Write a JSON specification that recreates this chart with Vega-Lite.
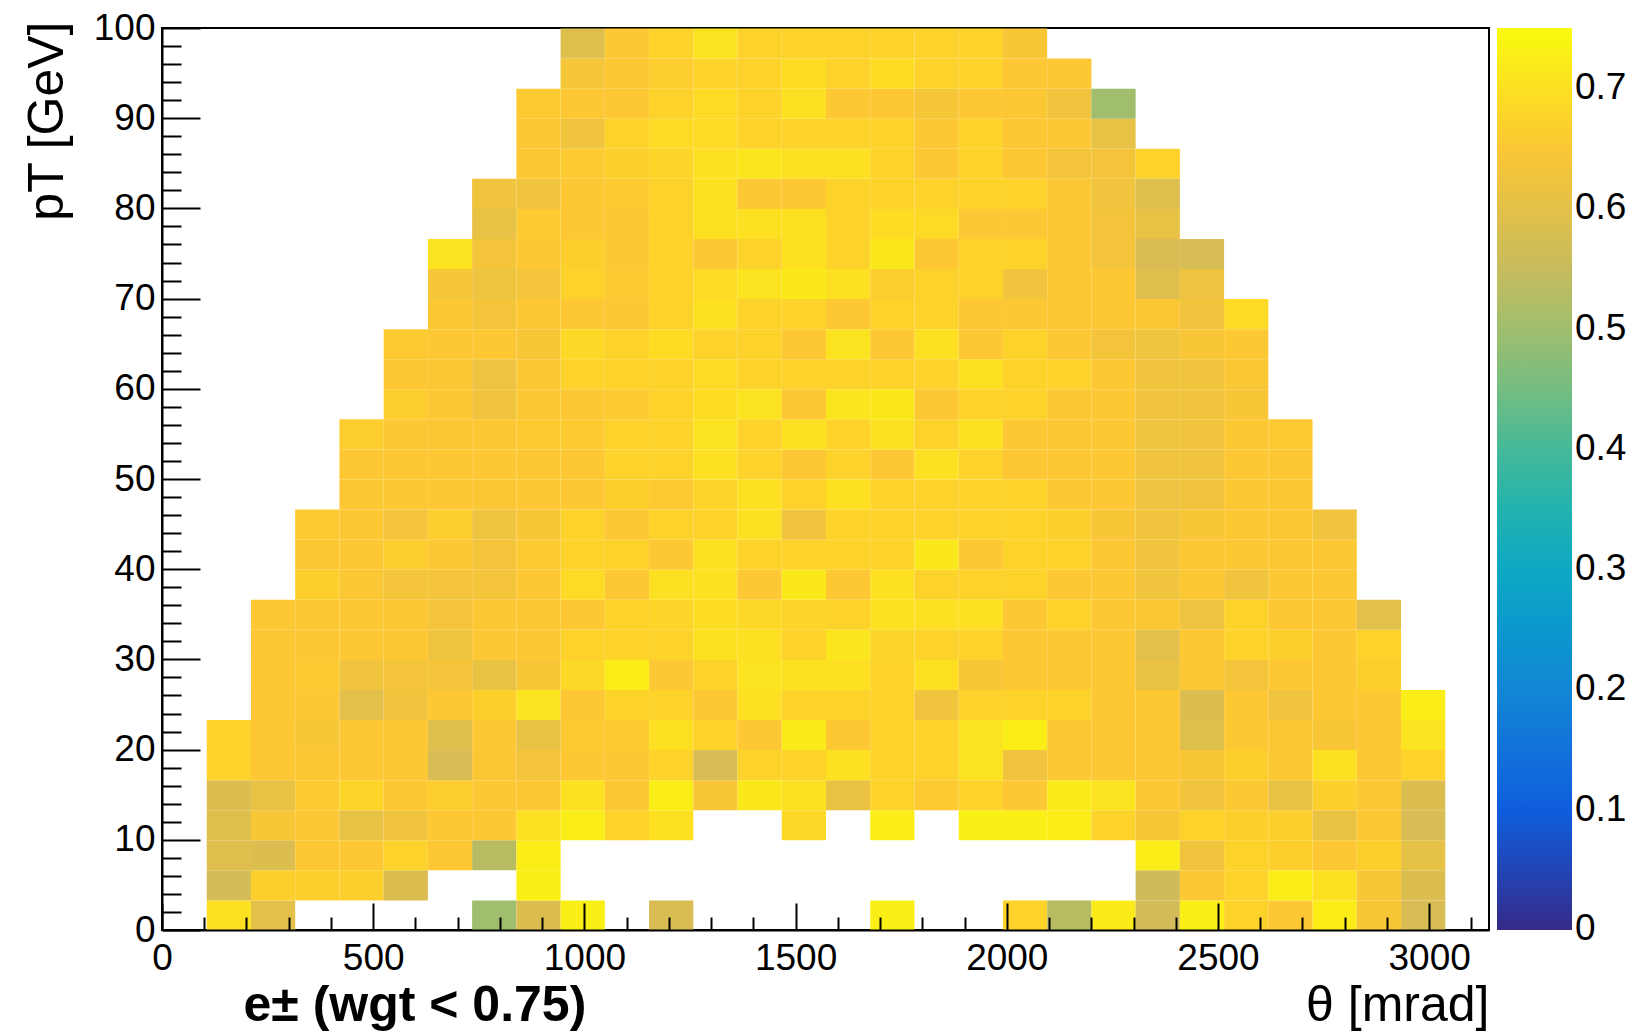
{
"$schema":"https://vega.github.io/schema/vega-lite/v6.json",
"width":1327,"height":902,
"autosize":{"type":"none"},
"padding":{"left":162,"top":28,"right":149,"bottom":102},
"background":"white",
"config":{"view":{"stroke":"#000","strokeWidth":2},"font":"Liberation Sans",
"axis":{"grid":false,"domainColor":"#000","domainWidth":2,"tickColor":"#000","tickWidth":2,"labelColor":"#000","labelFont":"Liberation Sans","labelFontSize":37,"titleFont":"Liberation Sans","titleColor":"#000","titleFontSize":50,"titleFontWeight":"normal","labelOverlap":false,"labelFlush":false,"labelBound":false}},
"data":{"values":[
{"t":157.1,"p":1.67,"w":0.70},{"t":157.1,"p":5,"w":0.57},{"t":157.1,"p":8.33,"w":0.59},{"t":157.1,"p":11.67,"w":0.59},{"t":157.1,"p":15,"w":0.585},{"t":157.1,"p":18.33,"w":0.675},{"t":157.1,"p":21.67,"w":0.675},
{"t":261.8,"p":1.67,"w":0.60},{"t":261.8,"p":5,"w":0.67},{"t":261.8,"p":8.33,"w":0.585},{"t":261.8,"p":11.67,"w":0.645},{"t":261.8,"p":15,"w":0.61},{"t":261.8,"p":18.33,"w":0.655},{"t":261.8,"p":21.67,"w":0.655},{"t":261.8,"p":25,"w":0.65},{"t":261.8,"p":28.33,"w":0.655},{"t":261.8,"p":31.67,"w":0.65},{"t":261.8,"p":35,"w":0.655},
{"t":366.5,"p":5,"w":0.67},{"t":366.5,"p":8.33,"w":0.655},{"t":366.5,"p":11.67,"w":0.655},{"t":366.5,"p":15,"w":0.66},{"t":366.5,"p":18.33,"w":0.655},{"t":366.5,"p":21.67,"w":0.645},{"t":366.5,"p":25,"w":0.655},{"t":366.5,"p":28.33,"w":0.66},{"t":366.5,"p":31.67,"w":0.655},{"t":366.5,"p":35,"w":0.655},{"t":366.5,"p":38.33,"w":0.67},{"t":366.5,"p":41.67,"w":0.655},{"t":366.5,"p":45,"w":0.66},
{"t":471.2,"p":5,"w":0.67},{"t":471.2,"p":8.33,"w":0.655},{"t":471.2,"p":11.67,"w":0.61},{"t":471.2,"p":15,"w":0.68},{"t":471.2,"p":18.33,"w":0.655},{"t":471.2,"p":21.67,"w":0.655},{"t":471.2,"p":25,"w":0.60},{"t":471.2,"p":28.33,"w":0.63},{"t":471.2,"p":31.67,"w":0.655},{"t":471.2,"p":35,"w":0.655},{"t":471.2,"p":38.33,"w":0.65},{"t":471.2,"p":41.67,"w":0.655},{"t":471.2,"p":45,"w":0.655},{"t":471.2,"p":48.33,"w":0.65},{"t":471.2,"p":51.67,"w":0.655},{"t":471.2,"p":55,"w":0.665},
{"t":576,"p":5,"w":0.585},{"t":576,"p":8.33,"w":0.675},{"t":576,"p":11.67,"w":0.63},{"t":576,"p":15,"w":0.655},{"t":576,"p":18.33,"w":0.655},{"t":576,"p":21.67,"w":0.655},{"t":576,"p":25,"w":0.63},{"t":576,"p":28.33,"w":0.635},{"t":576,"p":31.67,"w":0.655},{"t":576,"p":35,"w":0.655},{"t":576,"p":38.33,"w":0.635},{"t":576,"p":41.67,"w":0.665},{"t":576,"p":45,"w":0.635},{"t":576,"p":48.33,"w":0.655},{"t":576,"p":51.67,"w":0.655},{"t":576,"p":55,"w":0.655},{"t":576,"p":58.33,"w":0.665},{"t":576,"p":61.67,"w":0.655},{"t":576,"p":65,"w":0.66},
{"t":680.7,"p":8.33,"w":0.655},{"t":680.7,"p":11.67,"w":0.655},{"t":680.7,"p":15,"w":0.665},{"t":680.7,"p":18.33,"w":0.575},{"t":680.7,"p":21.67,"w":0.59},{"t":680.7,"p":25,"w":0.655},{"t":680.7,"p":28.33,"w":0.635},{"t":680.7,"p":31.67,"w":0.625},{"t":680.7,"p":35,"w":0.635},{"t":680.7,"p":38.33,"w":0.635},{"t":680.7,"p":41.67,"w":0.655},{"t":680.7,"p":45,"w":0.665},{"t":680.7,"p":48.33,"w":0.655},{"t":680.7,"p":51.67,"w":0.655},{"t":680.7,"p":55,"w":0.65},{"t":680.7,"p":58.33,"w":0.655},{"t":680.7,"p":61.67,"w":0.65},{"t":680.7,"p":65,"w":0.655},{"t":680.7,"p":68.33,"w":0.65},{"t":680.7,"p":71.67,"w":0.64},{"t":680.7,"p":75,"w":0.705},
{"t":785.4,"p":1.67,"w":0.50},{"t":785.4,"p":8.33,"w":0.53},{"t":785.4,"p":11.67,"w":0.655},{"t":785.4,"p":15,"w":0.655},{"t":785.4,"p":18.33,"w":0.65},{"t":785.4,"p":21.67,"w":0.655},{"t":785.4,"p":25,"w":0.67},{"t":785.4,"p":28.33,"w":0.615},{"t":785.4,"p":31.67,"w":0.655},{"t":785.4,"p":35,"w":0.655},{"t":785.4,"p":38.33,"w":0.635},{"t":785.4,"p":41.67,"w":0.635},{"t":785.4,"p":45,"w":0.625},{"t":785.4,"p":48.33,"w":0.65},{"t":785.4,"p":51.67,"w":0.655},{"t":785.4,"p":55,"w":0.655},{"t":785.4,"p":58.33,"w":0.63},{"t":785.4,"p":61.67,"w":0.62},{"t":785.4,"p":65,"w":0.655},{"t":785.4,"p":68.33,"w":0.635},{"t":785.4,"p":71.67,"w":0.625},{"t":785.4,"p":75,"w":0.635},{"t":785.4,"p":78.33,"w":0.61},{"t":785.4,"p":81.67,"w":0.63},
{"t":890.1,"p":1.67,"w":0.585},{"t":890.1,"p":5,"w":0.73},{"t":890.1,"p":8.33,"w":0.725},{"t":890.1,"p":11.67,"w":0.70},{"t":890.1,"p":15,"w":0.655},{"t":890.1,"p":18.33,"w":0.635},{"t":890.1,"p":21.67,"w":0.61},{"t":890.1,"p":25,"w":0.705},{"t":890.1,"p":28.33,"w":0.645},{"t":890.1,"p":31.67,"w":0.655},{"t":890.1,"p":35,"w":0.655},{"t":890.1,"p":38.33,"w":0.655},{"t":890.1,"p":41.67,"w":0.66},{"t":890.1,"p":45,"w":0.645},{"t":890.1,"p":48.33,"w":0.655},{"t":890.1,"p":51.67,"w":0.655},{"t":890.1,"p":55,"w":0.66},{"t":890.1,"p":58.33,"w":0.655},{"t":890.1,"p":61.67,"w":0.655},{"t":890.1,"p":65,"w":0.645},{"t":890.1,"p":68.33,"w":0.655},{"t":890.1,"p":71.67,"w":0.635},{"t":890.1,"p":75,"w":0.655},{"t":890.1,"p":78.33,"w":0.66},{"t":890.1,"p":81.67,"w":0.63},{"t":890.1,"p":85,"w":0.655},{"t":890.1,"p":88.33,"w":0.655},{"t":890.1,"p":91.67,"w":0.66},
{"t":994.8,"p":1.67,"w":0.73},{"t":994.8,"p":11.67,"w":0.725},{"t":994.8,"p":15,"w":0.70},{"t":994.8,"p":18.33,"w":0.655},{"t":994.8,"p":21.67,"w":0.66},{"t":994.8,"p":25,"w":0.655},{"t":994.8,"p":28.33,"w":0.685},{"t":994.8,"p":31.67,"w":0.675},{"t":994.8,"p":35,"w":0.655},{"t":994.8,"p":38.33,"w":0.69},{"t":994.8,"p":41.67,"w":0.675},{"t":994.8,"p":45,"w":0.675},{"t":994.8,"p":48.33,"w":0.655},{"t":994.8,"p":51.67,"w":0.655},{"t":994.8,"p":55,"w":0.66},{"t":994.8,"p":58.33,"w":0.655},{"t":994.8,"p":61.67,"w":0.675},{"t":994.8,"p":65,"w":0.685},{"t":994.8,"p":68.33,"w":0.655},{"t":994.8,"p":71.67,"w":0.675},{"t":994.8,"p":75,"w":0.67},{"t":994.8,"p":78.33,"w":0.655},{"t":994.8,"p":81.67,"w":0.655},{"t":994.8,"p":85,"w":0.66},{"t":994.8,"p":88.33,"w":0.63},{"t":994.8,"p":91.67,"w":0.655},{"t":994.8,"p":95,"w":0.64},{"t":994.8,"p":98.33,"w":0.59},
{"t":1099.6,"p":11.67,"w":0.675},{"t":1099.6,"p":15,"w":0.655},{"t":1099.6,"p":18.33,"w":0.655},{"t":1099.6,"p":21.67,"w":0.66},{"t":1099.6,"p":25,"w":0.675},{"t":1099.6,"p":28.33,"w":0.725},{"t":1099.6,"p":31.67,"w":0.675},{"t":1099.6,"p":35,"w":0.675},{"t":1099.6,"p":38.33,"w":0.655},{"t":1099.6,"p":41.67,"w":0.675},{"t":1099.6,"p":45,"w":0.655},{"t":1099.6,"p":48.33,"w":0.67},{"t":1099.6,"p":51.67,"w":0.675},{"t":1099.6,"p":55,"w":0.675},{"t":1099.6,"p":58.33,"w":0.66},{"t":1099.6,"p":61.67,"w":0.675},{"t":1099.6,"p":65,"w":0.675},{"t":1099.6,"p":68.33,"w":0.655},{"t":1099.6,"p":71.67,"w":0.66},{"t":1099.6,"p":75,"w":0.655},{"t":1099.6,"p":78.33,"w":0.655},{"t":1099.6,"p":81.67,"w":0.66},{"t":1099.6,"p":85,"w":0.67},{"t":1099.6,"p":88.33,"w":0.675},{"t":1099.6,"p":91.67,"w":0.655},{"t":1099.6,"p":95,"w":0.655},{"t":1099.6,"p":98.33,"w":0.655},
{"t":1204.3,"p":1.67,"w":0.58},{"t":1204.3,"p":11.67,"w":0.70},{"t":1204.3,"p":15,"w":0.725},{"t":1204.3,"p":18.33,"w":0.675},{"t":1204.3,"p":21.67,"w":0.70},{"t":1204.3,"p":25,"w":0.675},{"t":1204.3,"p":28.33,"w":0.655},{"t":1204.3,"p":31.67,"w":0.675},{"t":1204.3,"p":35,"w":0.68},{"t":1204.3,"p":38.33,"w":0.70},{"t":1204.3,"p":41.67,"w":0.655},{"t":1204.3,"p":45,"w":0.675},{"t":1204.3,"p":48.33,"w":0.66},{"t":1204.3,"p":51.67,"w":0.675},{"t":1204.3,"p":55,"w":0.675},{"t":1204.3,"p":58.33,"w":0.675},{"t":1204.3,"p":61.67,"w":0.675},{"t":1204.3,"p":65,"w":0.695},{"t":1204.3,"p":68.33,"w":0.675},{"t":1204.3,"p":71.67,"w":0.675},{"t":1204.3,"p":75,"w":0.675},{"t":1204.3,"p":78.33,"w":0.675},{"t":1204.3,"p":81.67,"w":0.675},{"t":1204.3,"p":85,"w":0.68},{"t":1204.3,"p":88.33,"w":0.69},{"t":1204.3,"p":91.67,"w":0.675},{"t":1204.3,"p":95,"w":0.665},{"t":1204.3,"p":98.33,"w":0.675},
{"t":1309,"p":15,"w":0.645},{"t":1309,"p":18.33,"w":0.575},{"t":1309,"p":21.67,"w":0.675},{"t":1309,"p":25,"w":0.655},{"t":1309,"p":28.33,"w":0.675},{"t":1309,"p":31.67,"w":0.70},{"t":1309,"p":35,"w":0.695},{"t":1309,"p":38.33,"w":0.70},{"t":1309,"p":41.67,"w":0.70},{"t":1309,"p":45,"w":0.675},{"t":1309,"p":48.33,"w":0.68},{"t":1309,"p":51.67,"w":0.70},{"t":1309,"p":55,"w":0.705},{"t":1309,"p":58.33,"w":0.695},{"t":1309,"p":61.67,"w":0.69},{"t":1309,"p":65,"w":0.675},{"t":1309,"p":68.33,"w":0.70},{"t":1309,"p":71.67,"w":0.69},{"t":1309,"p":75,"w":0.655},{"t":1309,"p":78.33,"w":0.70},{"t":1309,"p":81.67,"w":0.70},{"t":1309,"p":85,"w":0.70},{"t":1309,"p":88.33,"w":0.69},{"t":1309,"p":91.67,"w":0.69},{"t":1309,"p":95,"w":0.675},{"t":1309,"p":98.33,"w":0.705},
{"t":1413.7,"p":15,"w":0.715},{"t":1413.7,"p":18.33,"w":0.675},{"t":1413.7,"p":21.67,"w":0.655},{"t":1413.7,"p":25,"w":0.70},{"t":1413.7,"p":28.33,"w":0.705},{"t":1413.7,"p":31.67,"w":0.70},{"t":1413.7,"p":35,"w":0.685},{"t":1413.7,"p":38.33,"w":0.655},{"t":1413.7,"p":41.67,"w":0.675},{"t":1413.7,"p":45,"w":0.70},{"t":1413.7,"p":48.33,"w":0.70},{"t":1413.7,"p":51.67,"w":0.675},{"t":1413.7,"p":55,"w":0.675},{"t":1413.7,"p":58.33,"w":0.705},{"t":1413.7,"p":61.67,"w":0.675},{"t":1413.7,"p":65,"w":0.675},{"t":1413.7,"p":68.33,"w":0.675},{"t":1413.7,"p":71.67,"w":0.705},{"t":1413.7,"p":75,"w":0.675},{"t":1413.7,"p":78.33,"w":0.70},{"t":1413.7,"p":81.67,"w":0.655},{"t":1413.7,"p":85,"w":0.71},{"t":1413.7,"p":88.33,"w":0.675},{"t":1413.7,"p":91.67,"w":0.675},{"t":1413.7,"p":95,"w":0.675},{"t":1413.7,"p":98.33,"w":0.675},
{"t":1518.4,"p":11.67,"w":0.685},{"t":1518.4,"p":15,"w":0.70},{"t":1518.4,"p":18.33,"w":0.675},{"t":1518.4,"p":21.67,"w":0.72},{"t":1518.4,"p":25,"w":0.675},{"t":1518.4,"p":28.33,"w":0.70},{"t":1518.4,"p":31.67,"w":0.675},{"t":1518.4,"p":35,"w":0.68},{"t":1518.4,"p":38.33,"w":0.715},{"t":1518.4,"p":41.67,"w":0.675},{"t":1518.4,"p":45,"w":0.63},{"t":1518.4,"p":48.33,"w":0.675},{"t":1518.4,"p":51.67,"w":0.655},{"t":1518.4,"p":55,"w":0.70},{"t":1518.4,"p":58.33,"w":0.655},{"t":1518.4,"p":61.67,"w":0.675},{"t":1518.4,"p":65,"w":0.655},{"t":1518.4,"p":68.33,"w":0.675},{"t":1518.4,"p":71.67,"w":0.715},{"t":1518.4,"p":75,"w":0.70},{"t":1518.4,"p":78.33,"w":0.70},{"t":1518.4,"p":81.67,"w":0.655},{"t":1518.4,"p":85,"w":0.70},{"t":1518.4,"p":88.33,"w":0.675},{"t":1518.4,"p":91.67,"w":0.70},{"t":1518.4,"p":95,"w":0.695},{"t":1518.4,"p":98.33,"w":0.675},
{"t":1623.2,"p":15,"w":0.615},{"t":1623.2,"p":18.33,"w":0.70},{"t":1623.2,"p":21.67,"w":0.655},{"t":1623.2,"p":25,"w":0.675},{"t":1623.2,"p":28.33,"w":0.70},{"t":1623.2,"p":31.67,"w":0.71},{"t":1623.2,"p":35,"w":0.675},{"t":1623.2,"p":38.33,"w":0.655},{"t":1623.2,"p":41.67,"w":0.675},{"t":1623.2,"p":45,"w":0.675},{"t":1623.2,"p":48.33,"w":0.70},{"t":1623.2,"p":51.67,"w":0.675},{"t":1623.2,"p":55,"w":0.675},{"t":1623.2,"p":58.33,"w":0.71},{"t":1623.2,"p":61.67,"w":0.675},{"t":1623.2,"p":65,"w":0.705},{"t":1623.2,"p":68.33,"w":0.655},{"t":1623.2,"p":71.67,"w":0.70},{"t":1623.2,"p":75,"w":0.675},{"t":1623.2,"p":78.33,"w":0.675},{"t":1623.2,"p":81.67,"w":0.675},{"t":1623.2,"p":85,"w":0.70},{"t":1623.2,"p":88.33,"w":0.675},{"t":1623.2,"p":91.67,"w":0.655},{"t":1623.2,"p":95,"w":0.675},{"t":1623.2,"p":98.33,"w":0.675},
{"t":1727.9,"p":1.67,"w":0.73},{"t":1727.9,"p":11.67,"w":0.725},{"t":1727.9,"p":15,"w":0.675},{"t":1727.9,"p":18.33,"w":0.675},{"t":1727.9,"p":21.67,"w":0.675},{"t":1727.9,"p":25,"w":0.675},{"t":1727.9,"p":28.33,"w":0.675},{"t":1727.9,"p":31.67,"w":0.68},{"t":1727.9,"p":35,"w":0.70},{"t":1727.9,"p":38.33,"w":0.70},{"t":1727.9,"p":41.67,"w":0.675},{"t":1727.9,"p":45,"w":0.675},{"t":1727.9,"p":48.33,"w":0.675},{"t":1727.9,"p":51.67,"w":0.655},{"t":1727.9,"p":55,"w":0.70},{"t":1727.9,"p":58.33,"w":0.715},{"t":1727.9,"p":61.67,"w":0.675},{"t":1727.9,"p":65,"w":0.655},{"t":1727.9,"p":68.33,"w":0.675},{"t":1727.9,"p":71.67,"w":0.665},{"t":1727.9,"p":75,"w":0.715},{"t":1727.9,"p":78.33,"w":0.695},{"t":1727.9,"p":81.67,"w":0.675},{"t":1727.9,"p":85,"w":0.675},{"t":1727.9,"p":88.33,"w":0.675},{"t":1727.9,"p":91.67,"w":0.655},{"t":1727.9,"p":95,"w":0.695},{"t":1727.9,"p":98.33,"w":0.675},
{"t":1832.6,"p":15,"w":0.66},{"t":1832.6,"p":18.33,"w":0.675},{"t":1832.6,"p":21.67,"w":0.675},{"t":1832.6,"p":25,"w":0.63},{"t":1832.6,"p":28.33,"w":0.70},{"t":1832.6,"p":31.67,"w":0.675},{"t":1832.6,"p":35,"w":0.70},{"t":1832.6,"p":38.33,"w":0.675},{"t":1832.6,"p":41.67,"w":0.715},{"t":1832.6,"p":45,"w":0.675},{"t":1832.6,"p":48.33,"w":0.675},{"t":1832.6,"p":51.67,"w":0.70},{"t":1832.6,"p":55,"w":0.675},{"t":1832.6,"p":58.33,"w":0.655},{"t":1832.6,"p":61.67,"w":0.675},{"t":1832.6,"p":65,"w":0.70},{"t":1832.6,"p":68.33,"w":0.675},{"t":1832.6,"p":71.67,"w":0.675},{"t":1832.6,"p":75,"w":0.655},{"t":1832.6,"p":78.33,"w":0.69},{"t":1832.6,"p":81.67,"w":0.675},{"t":1832.6,"p":85,"w":0.655},{"t":1832.6,"p":88.33,"w":0.655},{"t":1832.6,"p":91.67,"w":0.64},{"t":1832.6,"p":95,"w":0.675},{"t":1832.6,"p":98.33,"w":0.675},
{"t":1937.3,"p":11.67,"w":0.73},{"t":1937.3,"p":15,"w":0.675},{"t":1937.3,"p":18.33,"w":0.705},{"t":1937.3,"p":21.67,"w":0.705},{"t":1937.3,"p":25,"w":0.675},{"t":1937.3,"p":28.33,"w":0.645},{"t":1937.3,"p":31.67,"w":0.675},{"t":1937.3,"p":35,"w":0.70},{"t":1937.3,"p":38.33,"w":0.675},{"t":1937.3,"p":41.67,"w":0.655},{"t":1937.3,"p":45,"w":0.675},{"t":1937.3,"p":48.33,"w":0.675},{"t":1937.3,"p":51.67,"w":0.675},{"t":1937.3,"p":55,"w":0.70},{"t":1937.3,"p":58.33,"w":0.675},{"t":1937.3,"p":61.67,"w":0.70},{"t":1937.3,"p":65,"w":0.655},{"t":1937.3,"p":68.33,"w":0.655},{"t":1937.3,"p":71.67,"w":0.675},{"t":1937.3,"p":75,"w":0.675},{"t":1937.3,"p":78.33,"w":0.655},{"t":1937.3,"p":81.67,"w":0.675},{"t":1937.3,"p":85,"w":0.675},{"t":1937.3,"p":88.33,"w":0.675},{"t":1937.3,"p":91.67,"w":0.655},{"t":1937.3,"p":95,"w":0.675},{"t":1937.3,"p":98.33,"w":0.675},
{"t":2042,"p":1.67,"w":0.675},{"t":2042,"p":11.67,"w":0.73},{"t":2042,"p":15,"w":0.655},{"t":2042,"p":18.33,"w":0.63},{"t":2042,"p":21.67,"w":0.725},{"t":2042,"p":25,"w":0.675},{"t":2042,"p":28.33,"w":0.655},{"t":2042,"p":31.67,"w":0.655},{"t":2042,"p":35,"w":0.655},{"t":2042,"p":38.33,"w":0.675},{"t":2042,"p":41.67,"w":0.675},{"t":2042,"p":45,"w":0.675},{"t":2042,"p":48.33,"w":0.675},{"t":2042,"p":51.67,"w":0.655},{"t":2042,"p":55,"w":0.655},{"t":2042,"p":58.33,"w":0.675},{"t":2042,"p":61.67,"w":0.675},{"t":2042,"p":65,"w":0.675},{"t":2042,"p":68.33,"w":0.655},{"t":2042,"p":71.67,"w":0.63},{"t":2042,"p":75,"w":0.675},{"t":2042,"p":78.33,"w":0.655},{"t":2042,"p":81.67,"w":0.675},{"t":2042,"p":85,"w":0.655},{"t":2042,"p":88.33,"w":0.655},{"t":2042,"p":91.67,"w":0.65},{"t":2042,"p":95,"w":0.655},{"t":2042,"p":98.33,"w":0.645},
{"t":2146.8,"p":1.67,"w":0.53},{"t":2146.8,"p":11.67,"w":0.725},{"t":2146.8,"p":15,"w":0.72},{"t":2146.8,"p":18.33,"w":0.655},{"t":2146.8,"p":21.67,"w":0.655},{"t":2146.8,"p":25,"w":0.675},{"t":2146.8,"p":28.33,"w":0.655},{"t":2146.8,"p":31.67,"w":0.655},{"t":2146.8,"p":35,"w":0.675},{"t":2146.8,"p":38.33,"w":0.655},{"t":2146.8,"p":41.67,"w":0.675},{"t":2146.8,"p":45,"w":0.67},{"t":2146.8,"p":48.33,"w":0.655},{"t":2146.8,"p":51.67,"w":0.655},{"t":2146.8,"p":55,"w":0.655},{"t":2146.8,"p":58.33,"w":0.655},{"t":2146.8,"p":61.67,"w":0.675},{"t":2146.8,"p":65,"w":0.655},{"t":2146.8,"p":68.33,"w":0.655},{"t":2146.8,"p":71.67,"w":0.655},{"t":2146.8,"p":75,"w":0.655},{"t":2146.8,"p":78.33,"w":0.655},{"t":2146.8,"p":81.67,"w":0.65},{"t":2146.8,"p":85,"w":0.635},{"t":2146.8,"p":88.33,"w":0.655},{"t":2146.8,"p":91.67,"w":0.63},{"t":2146.8,"p":95,"w":0.655},
{"t":2251.5,"p":1.67,"w":0.72},{"t":2251.5,"p":11.67,"w":0.675},{"t":2251.5,"p":15,"w":0.705},{"t":2251.5,"p":18.33,"w":0.655},{"t":2251.5,"p":21.67,"w":0.655},{"t":2251.5,"p":25,"w":0.655},{"t":2251.5,"p":28.33,"w":0.655},{"t":2251.5,"p":31.67,"w":0.655},{"t":2251.5,"p":35,"w":0.655},{"t":2251.5,"p":38.33,"w":0.655},{"t":2251.5,"p":41.67,"w":0.655},{"t":2251.5,"p":45,"w":0.645},{"t":2251.5,"p":48.33,"w":0.655},{"t":2251.5,"p":51.67,"w":0.655},{"t":2251.5,"p":55,"w":0.655},{"t":2251.5,"p":58.33,"w":0.655},{"t":2251.5,"p":61.67,"w":0.655},{"t":2251.5,"p":65,"w":0.635},{"t":2251.5,"p":68.33,"w":0.655},{"t":2251.5,"p":71.67,"w":0.655},{"t":2251.5,"p":75,"w":0.635},{"t":2251.5,"p":78.33,"w":0.635},{"t":2251.5,"p":81.67,"w":0.63},{"t":2251.5,"p":85,"w":0.635},{"t":2251.5,"p":88.33,"w":0.61},{"t":2251.5,"p":91.67,"w":0.50},
{"t":2356.2,"p":1.67,"w":0.565},{"t":2356.2,"p":5,"w":0.56},{"t":2356.2,"p":8.33,"w":0.725},{"t":2356.2,"p":11.67,"w":0.645},{"t":2356.2,"p":15,"w":0.655},{"t":2356.2,"p":18.33,"w":0.655},{"t":2356.2,"p":21.67,"w":0.655},{"t":2356.2,"p":25,"w":0.655},{"t":2356.2,"p":28.33,"w":0.615},{"t":2356.2,"p":31.67,"w":0.60},{"t":2356.2,"p":35,"w":0.65},{"t":2356.2,"p":38.33,"w":0.63},{"t":2356.2,"p":41.67,"w":0.63},{"t":2356.2,"p":45,"w":0.63},{"t":2356.2,"p":48.33,"w":0.62},{"t":2356.2,"p":51.67,"w":0.63},{"t":2356.2,"p":55,"w":0.625},{"t":2356.2,"p":58.33,"w":0.63},{"t":2356.2,"p":61.67,"w":0.63},{"t":2356.2,"p":65,"w":0.625},{"t":2356.2,"p":68.33,"w":0.65},{"t":2356.2,"p":71.67,"w":0.59},{"t":2356.2,"p":75,"w":0.58},{"t":2356.2,"p":78.33,"w":0.61},{"t":2356.2,"p":81.67,"w":0.59},{"t":2356.2,"p":85,"w":0.675},
{"t":2460.9,"p":1.67,"w":0.73},{"t":2460.9,"p":5,"w":0.655},{"t":2460.9,"p":8.33,"w":0.63},{"t":2460.9,"p":11.67,"w":0.675},{"t":2460.9,"p":15,"w":0.63},{"t":2460.9,"p":18.33,"w":0.645},{"t":2460.9,"p":21.67,"w":0.59},{"t":2460.9,"p":25,"w":0.585},{"t":2460.9,"p":28.33,"w":0.65},{"t":2460.9,"p":31.67,"w":0.655},{"t":2460.9,"p":35,"w":0.62},{"t":2460.9,"p":38.33,"w":0.655},{"t":2460.9,"p":41.67,"w":0.655},{"t":2460.9,"p":45,"w":0.645},{"t":2460.9,"p":48.33,"w":0.63},{"t":2460.9,"p":51.67,"w":0.63},{"t":2460.9,"p":55,"w":0.63},{"t":2460.9,"p":58.33,"w":0.63},{"t":2460.9,"p":61.67,"w":0.63},{"t":2460.9,"p":65,"w":0.645},{"t":2460.9,"p":68.33,"w":0.63},{"t":2460.9,"p":71.67,"w":0.62},{"t":2460.9,"p":75,"w":0.575},
{"t":2565.6,"p":1.67,"w":0.675},{"t":2565.6,"p":5,"w":0.675},{"t":2565.6,"p":8.33,"w":0.675},{"t":2565.6,"p":11.67,"w":0.67},{"t":2565.6,"p":15,"w":0.655},{"t":2565.6,"p":18.33,"w":0.67},{"t":2565.6,"p":21.67,"w":0.655},{"t":2565.6,"p":25,"w":0.655},{"t":2565.6,"p":28.33,"w":0.635},{"t":2565.6,"p":31.67,"w":0.675},{"t":2565.6,"p":35,"w":0.675},{"t":2565.6,"p":38.33,"w":0.63},{"t":2565.6,"p":41.67,"w":0.655},{"t":2565.6,"p":45,"w":0.655},{"t":2565.6,"p":48.33,"w":0.655},{"t":2565.6,"p":51.67,"w":0.655},{"t":2565.6,"p":55,"w":0.655},{"t":2565.6,"p":58.33,"w":0.645},{"t":2565.6,"p":61.67,"w":0.65},{"t":2565.6,"p":65,"w":0.655},{"t":2565.6,"p":68.33,"w":0.69},
{"t":2670.4,"p":1.67,"w":0.655},{"t":2670.4,"p":5,"w":0.725},{"t":2670.4,"p":8.33,"w":0.67},{"t":2670.4,"p":11.67,"w":0.67},{"t":2670.4,"p":15,"w":0.615},{"t":2670.4,"p":18.33,"w":0.655},{"t":2670.4,"p":21.67,"w":0.655},{"t":2670.4,"p":25,"w":0.63},{"t":2670.4,"p":28.33,"w":0.655},{"t":2670.4,"p":31.67,"w":0.67},{"t":2670.4,"p":35,"w":0.655},{"t":2670.4,"p":38.33,"w":0.655},{"t":2670.4,"p":41.67,"w":0.655},{"t":2670.4,"p":45,"w":0.655},{"t":2670.4,"p":48.33,"w":0.655},{"t":2670.4,"p":51.67,"w":0.655},{"t":2670.4,"p":55,"w":0.66},
{"t":2775.1,"p":1.67,"w":0.725},{"t":2775.1,"p":5,"w":0.70},{"t":2775.1,"p":8.33,"w":0.655},{"t":2775.1,"p":11.67,"w":0.615},{"t":2775.1,"p":15,"w":0.67},{"t":2775.1,"p":18.33,"w":0.70},{"t":2775.1,"p":21.67,"w":0.645},{"t":2775.1,"p":25,"w":0.655},{"t":2775.1,"p":28.33,"w":0.655},{"t":2775.1,"p":31.67,"w":0.655},{"t":2775.1,"p":35,"w":0.655},{"t":2775.1,"p":38.33,"w":0.655},{"t":2775.1,"p":41.67,"w":0.655},{"t":2775.1,"p":45,"w":0.63},
{"t":2879.8,"p":1.67,"w":0.645},{"t":2879.8,"p":5,"w":0.645},{"t":2879.8,"p":8.33,"w":0.67},{"t":2879.8,"p":11.67,"w":0.655},{"t":2879.8,"p":15,"w":0.655},{"t":2879.8,"p":18.33,"w":0.655},{"t":2879.8,"p":21.67,"w":0.655},{"t":2879.8,"p":25,"w":0.655},{"t":2879.8,"p":28.33,"w":0.67},{"t":2879.8,"p":31.67,"w":0.675},{"t":2879.8,"p":35,"w":0.595},
{"t":2984.5,"p":1.67,"w":0.575},{"t":2984.5,"p":5,"w":0.585},{"t":2984.5,"p":8.33,"w":0.605},{"t":2984.5,"p":11.67,"w":0.575},{"t":2984.5,"p":15,"w":0.585},{"t":2984.5,"p":18.33,"w":0.675},{"t":2984.5,"p":21.67,"w":0.705},{"t":2984.5,"p":25,"w":0.725}
]},
"encoding":{
"y":{"field":"p","type":"quantitative","bin":{"extent":[0,100],"step":3.3333333333,"nice":false},
"scale":{"domain":[0,100],"nice":false,"zero":false},
"title":"pT [GeV]",
"axis":{"orient":"left","values":[0,2,4,6,8,10,12,14,16,18,20,22,24,26,28,30,32,34,36,38,40,42,44,46,48,50,52,54,56,58,60,62,64,66,68,70,72,74,76,78,80,82,84,86,88,90,92,94,96,98,100],
"labelExpr":"datum.value % 10 === 0 ? '' + datum.value : ''",
"tickSize":{"condition":{"test":"datum.value % 10 === 0","value":-38},"value":-19},
"labelPadding":45,"labelBaseline":"middle",
"titleAngle":270,"titleAlign":"right","titleBaseline":"alphabetic","titleX":-100,"titleY":-7,"titleAnchor":null}}
},
"layer":[
{"mark":{"type":"rect"},
"encoding":{
"x":{"field":"t","type":"quantitative","bin":{"extent":[0,3141.5927],"step":104.719755,"nice":false},
"scale":{"domain":[0,3141.5927],"nice":false,"zero":false},
"title":"θ [mrad]",
"axis":{"orient":"bottom","values":[0,100,200,300,400,500,600,700,800,900,1000,1100,1200,1300,1400,1500,1600,1700,1800,1900,2000,2100,2200,2300,2400,2500,2600,2700,2800,2900,3000,3100],
"labelExpr":"datum.value % 500 === 0 ? '' + datum.value : ''",
"tickSize":{"condition":{"test":"datum.value % 500 === 0","value":-27},"value":-13},
"labelPadding":37,
"titleAlign":"right","titleBaseline":"alphabetic","titleX":1327,"titleY":90,"titleAnchor":null}},
"color":{"field":"w","type":"quantitative",
"scale":{"domain":[0,0.09375,0.1875,0.28125,0.375,0.46875,0.5625,0.65625,0.75],
"range":["#352a87","#0f5cdd","#1481d6","#06a4ca","#2eb7a4","#87bf77","#d1bb59","#fec832","#f9fb0e"],"interpolate":"rgb"},
"legend":{"orient":"none","legendX":1335,"legendY":0,"direction":"vertical","title":null,
"gradientLength":902,"gradientThickness":75,"gradientStrokeWidth":0,"padding":0,
"values":[0.0005,0.1,0.2,0.3,0.4,0.5,0.6,0.7],"format":"~g",
"labelExpr":"datum.value < 0.01 ? '0' : datum.label",
"labelFontSize":37,"labelFont":"Liberation Sans","labelColor":"#000","labelOffset":3,"labelOverlap":false,"labelBaseline":"middle"}}
}},
{"mark":{"type":"rect","opacity":0},
"encoding":{
"x":{"field":"t","type":"quantitative","bin":{"extent":[0,3141.5927],"step":104.719755,"nice":false},
"scale":{"domain":[0,3141.5927],"nice":false,"zero":false},
"title":"e± (wgt < 0.75)",
"axis":{"orient":"bottom","domain":false,"ticks":false,"labels":false,"titleFontWeight":"bold","titleAlign":"left","titleBaseline":"alphabetic","titleX":81,"titleY":90,"titleAnchor":null}}
}}
],
"resolve":{"axis":{"x":"independent"}}
}
